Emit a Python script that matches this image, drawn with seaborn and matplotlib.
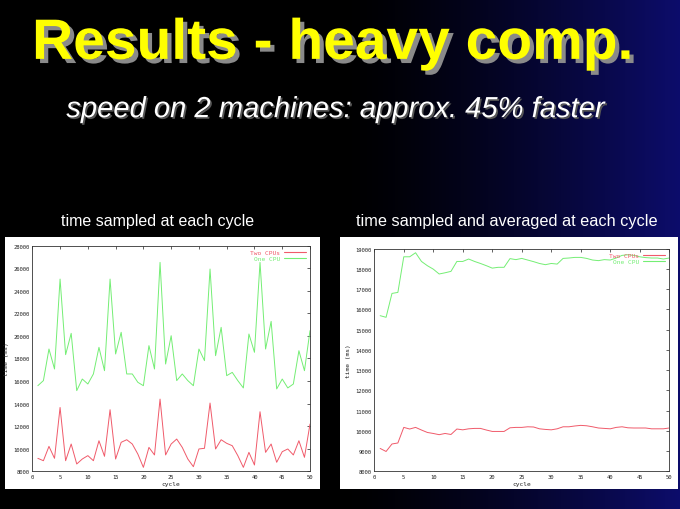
import numpy as np
import matplotlib
matplotlib.use("Agg")
import matplotlib.pyplot as plt
import matplotlib.patheffects as pe
from matplotlib.patches import Rectangle
import seaborn as sns

# cycles 1..50
cycles = list(range(1, 51))

# left chart: time sampled at each cycle (ms)
left_two_cpus = [9150, 8940, 10210, 9150, 13660, 8940, 10420, 8650, 9090, 9390,
                 8940, 10710, 9330, 13460, 9090, 10570, 10800, 10420, 9530, 8350,
                 10120, 9450, 14400, 9450, 10420, 10860, 10120, 9090, 8410, 9980,
                 10040, 14050, 9980, 10800, 10480, 10270, 9390, 8350, 9680, 8560,
                 13280, 9680, 10420, 8800, 9740, 9980, 9450, 10710, 9240, 12190]
left_one_cpu = [15590, 16040, 18840, 17070, 25040, 18340, 20230, 15150, 16180, 15740,
                16630, 18990, 16920, 25040, 18400, 20320, 16630, 16630, 15890, 15590,
                19140, 17070, 26520, 17510, 20020, 16040, 16630, 16040, 15590, 18840,
                17810, 25930, 18250, 20760, 16480, 16770, 16040, 15390, 20170, 18550,
                26520, 18840, 21290, 15300, 16180, 15390, 15740, 18690, 16920, 20470]

# right chart: time sampled and averaged at each cycle (ms)
right_two_cpus = [9130, 8980, 9350, 9400, 10170, 10090, 10170, 10040, 9920, 9870,
                  9810, 9870, 9820, 10090, 10050, 10100, 10120, 10120, 10040, 9970,
                  9970, 9970, 10150, 10170, 10170, 10200, 10190, 10100, 10070, 10050,
                  10100, 10200, 10200, 10240, 10270, 10250, 10200, 10140, 10120, 10100,
                  10170, 10200, 10150, 10140, 10140, 10140, 10100, 10100, 10100, 10140]
right_one_cpu = [15690, 15610, 16790, 16840, 18600, 18600, 18800, 18370, 18160, 17990,
                 17750, 17810, 17880, 18370, 18370, 18490, 18370, 18270, 18160, 18040,
                 18080, 18080, 18510, 18460, 18520, 18440, 18360, 18270, 18210, 18270,
                 18240, 18520, 18540, 18570, 18570, 18520, 18440, 18410, 18460, 18440,
                 18540, 18670, 18700, 18670, 18600, 18560, 18540, 18540, 18490, 18540]

series_names = ["Two CPUs", "One CPU"]
left_yticks = list(range(8000, 28001, 2000))
right_yticks = list(range(8000, 19001, 1000))
xticks = list(range(0, 51, 5))

RED = "#f05a6a"
GREEN = "#74ee74"

sns.set_theme(style="white")
plt.rcParams["font.family"] = ["Liberation Sans", "DejaVu Sans"]

fig = plt.figure(figsize=(6.8, 5.1), dpi=100)

# dark slide background, black fading to navy on the right
bg = fig.add_axes([0, 0, 1, 1], zorder=-10)
xs = np.linspace(0, 1, 400)
t = np.clip((xs - 0.5) / 0.5, 0, 1) ** 1.4
grad = np.zeros((2, 400, 3))
grad[..., 0] = 0.05 * t
grad[..., 1] = 0.05 * t
grad[..., 2] = 0.42 * t
bg.imshow(grad, aspect="auto", extent=[0, 1, 0, 1])
bg.set_axis_off()

# slide title, with drop shadow
fig.text(0.49, 0.912, "Results - heavy comp.", ha="center", va="center", color="#ffff00",
         fontsize=41, fontweight="bold",
         path_effects=[pe.withSimplePatchShadow(offset=(3, -3), shadow_rgbFace="#8a8a8a", alpha=1)])
fig.text(0.494, 0.784, "speed on 2 machines: approx. 45% faster", ha="center", va="center",
         color="white", fontsize=21, style="italic",
         path_effects=[pe.withSimplePatchShadow(offset=(1.2, -1.2), shadow_rgbFace="#555555", alpha=1)])

fig.text(0.231, 0.566, "time sampled at each cycle", ha="center", va="center",
         color="white", fontsize=11.5)
fig.text(0.746, 0.566, "time sampled and averaged at each cycle", ha="center", va="center",
         color="white", fontsize=11.7)

# white plot panels
fig.patches.append(Rectangle((0.0074, 0.039), 0.463, 0.494, transform=fig.transFigure,
                             facecolor="white", edgecolor="none", zorder=-5))
fig.patches.append(Rectangle((0.5, 0.039), 0.497, 0.494, transform=fig.transFigure,
                             facecolor="white", edgecolor="none", zorder=-5))

ax1 = fig.add_axes([0.0475, 0.0739, 0.4084, 0.4424])
ax2 = fig.add_axes([0.5504, 0.0739, 0.4338, 0.4365])

panels = [
    (ax1, left_two_cpus, left_one_cpu, left_yticks),
    (ax2, right_two_cpus, right_one_cpu, right_yticks),
]

for ax, two, one, yticks in panels:
    ax.set_facecolor("white")
    sns.lineplot(x=cycles, y=two, color=RED, linewidth=0.7, label=series_names[0], ax=ax)
    sns.lineplot(x=cycles, y=one, color=GREEN, linewidth=0.7, label=series_names[1], ax=ax)
    ax.set_xlim(0, 50)
    ax.set_ylim(yticks[0], yticks[-1])
    ax.set_xticks(xticks)
    ax.set_yticks(yticks)
    ax.tick_params(direction="in", top=True, right=True, length=2.5, width=0.5,
                   labelsize=4, pad=2, colors="#222222")
    for lab in ax.get_xticklabels() + ax.get_yticklabels():
        lab.set_family("DejaVu Sans Mono")
    for sp in ax.spines.values():
        sp.set_color("#333333")
        sp.set_linewidth(0.6)
    ax.set_xlabel("cycle", fontsize=4.5, family="DejaVu Sans Mono", labelpad=1.5, color="#222222")
    ax.set_ylabel("time (ms)", fontsize=4.5, family="DejaVu Sans Mono", labelpad=3, color="#222222")
    leg = ax.legend(loc="upper right", markerfirst=False, frameon=False,
                    handlelength=3.5, handletextpad=0.6, labelspacing=0.1, borderaxespad=0.3,
                    prop={"family": "DejaVu Sans Mono", "size": 4.5})
    for txt, line, c in zip(leg.get_texts(), leg.get_lines(), [RED, GREEN]):
        txt.set_color(c)
        line.set_color(c)
        line.set_linewidth(0.8)

fig.savefig("out.png", dpi=100, facecolor="black")
